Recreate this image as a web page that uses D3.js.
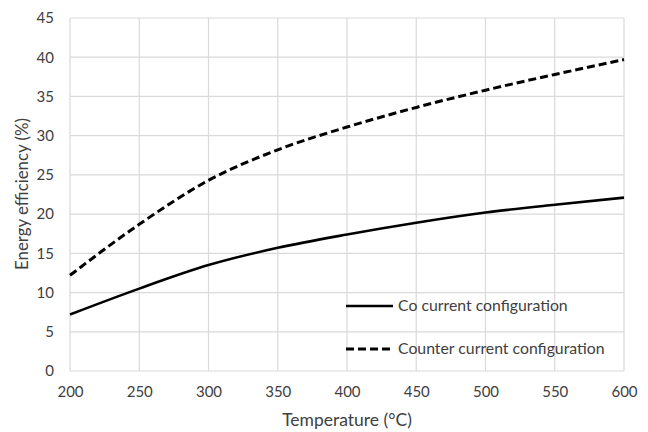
<!DOCTYPE html>
<html>
<head>
<meta charset="utf-8">
<script src="https://cdn.jsdelivr.net/npm/d3@7"></script>
<style>
  body { margin: 0; background: #fff; }
  text { font-family: Lato, "Open Sans", sans-serif; fill: #404040; }
</style>
</head>
<body>
<svg id="chart" width="648" height="432"></svg>
<script>
var temps = [200, 250, 300, 350, 400, 450, 500, 550, 600];
var coCurrent = [7.2, 10.5, 13.5, 15.7, 17.4, 18.9, 20.2, 21.2, 22.1];
var counterCurrent = [12.2, 18.7, 24.3, 28.2, 31.1, 33.6, 35.8, 37.8, 39.7];
var xTicks = [200, 250, 300, 350, 400, 450, 500, 550, 600];
var yTicks = [0, 5, 10, 15, 20, 25, 30, 35, 40, 45];
var seriesNames = ["Co current configuration", "Counter current configuration"];

var svg = d3.select('#chart');
var margin = {top: 18, right: 24, bottom: 61, left: 70};
var width = 648, height = 432;

var x = d3.scaleLinear().domain([200, 600]).range([margin.left, width - margin.right]);
var y = d3.scaleLinear().domain([0, 45]).range([height - margin.bottom, margin.top]);

// grid
svg.append('g').selectAll('line').data(xTicks).enter().append('line')
   .attr('x1', function(d) { return x(d) }).attr('x2', function(d) { return x(d) })
   .attr('y1', y(0)).attr('y2', y(45))
   .attr('stroke', '#d9d9d9').attr('stroke-width', 1.2);

svg.append('g').selectAll('line').data(yTicks).enter().append('line')
   .attr('x1', x(200)).attr('x2', x(600))
   .attr('y1', function(d) { return y(d) }).attr('y2', function(d) { return y(d) })
   .attr('stroke', '#d9d9d9').attr('stroke-width', 1.2);

// axes
var xAxis = svg.append('g')
   .attr('transform', 'translate(0,' + y(0) + ')')
   .call(d3.axisBottom(x).tickValues(xTicks).tickSize(0).tickPadding(15));
xAxis.select('.domain').remove();
xAxis.selectAll('text').style('font-size', '15px').style('fill', '#404040');

var yAxis = svg.append('g')
   .attr('transform', 'translate(' + x(200) + ',0)')
   .call(d3.axisLeft(y).tickValues(yTicks).tickSize(0).tickPadding(16));
yAxis.select('.domain').remove();
yAxis.selectAll('text').style('font-size', '15px').style('fill', '#404040');

// lines
var line = d3.line()
   .x(function(d) { return x(d[0]) })
   .y(function(d) { return y(d[1]) })
   .curve(d3.curveMonotoneX);

svg.append('path')
   .datum(d3.zip(temps, coCurrent))
   .attr('d', line)
   .attr('fill', 'none')
   .attr('stroke', '#000')
   .attr('stroke-width', 2.6);

svg.append('path')
   .datum(d3.zip(temps, counterCurrent))
   .attr('d', line)
   .attr('fill', 'none')
   .attr('stroke', '#000')
   .attr('stroke-width', 3)
   .attr('stroke-dasharray', '8,4');

// legend
var legend = svg.append('g');
var legendY = [306, 349];
seriesNames.forEach(function(name, i) {
   legend.append('line')
      .attr('x1', 346).attr('x2', 393)
      .attr('y1', legendY[i]).attr('y2', legendY[i])
      .attr('stroke', '#000')
      .attr('stroke-width', i === 0 ? 2.6 : 3)
      .attr('stroke-dasharray', i === 0 ? null : '8,4');
   legend.append('text')
      .attr('x', 398).attr('y', legendY[i] + 5)
      .style('font-size', '15.8px')
      .text(name);
});

// axis titles
svg.append('text')
   .attr('x', (x(200) + x(600)) / 2)
   .attr('y', 426)
   .attr('text-anchor', 'middle')
   .style('font-size', '17.5px')
   .text('Temperature (°C)');

svg.append('text')
   .attr('transform', 'translate(28,' + 194 + ') rotate(-90)')
   .attr('text-anchor', 'middle')
   .style('font-size', '16.8px')
   .text('Energy efficiency (%)');
</script>
</body>
</html>
